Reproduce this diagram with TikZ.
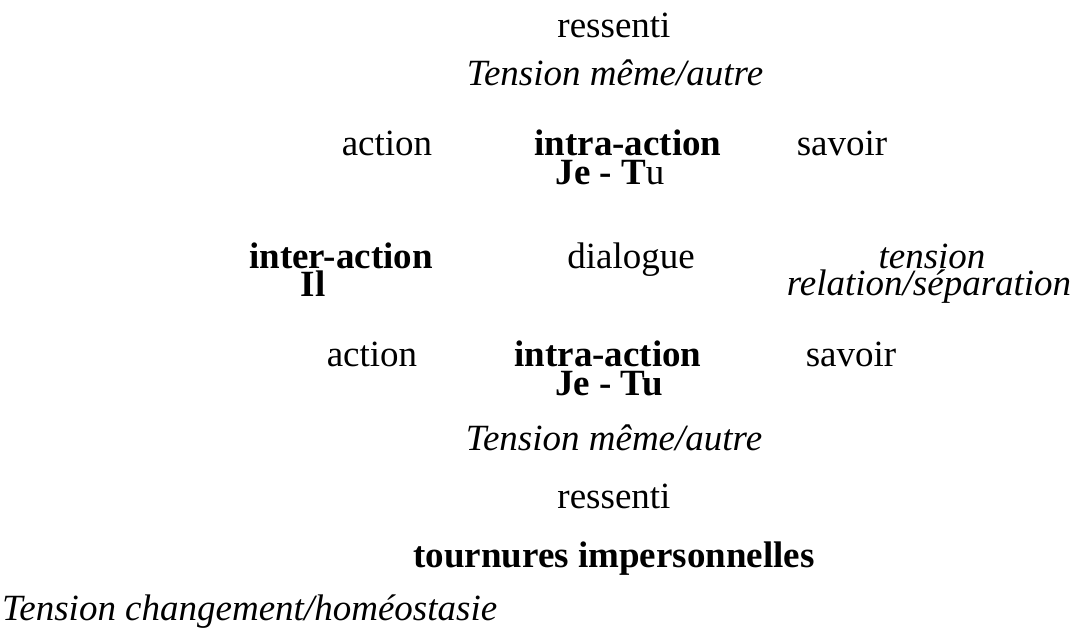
\documentclass[tikz,border=0pt]{standalone}
\usepackage{fontspec}
\setmainfont{Liberation Serif}
\begin{document}
\begin{tikzpicture}[x=1pt,y=1pt]

\tikzset{word/.style = {anchor=base, inner sep=0pt, font=\fontsize{37}{29}\selectfont}}
\tikzset{key/.style = {anchor=base, inner sep=0pt, font=\fontsize{37}{29}\selectfont\bfseries}}
\tikzset{tens/.style = {anchor=base, inner sep=0pt, font=\fontsize{37}{29}\selectfont\itshape}}

\useasboundingbox (0,0) rectangle (1073,-630);

% upper pole
\node[word] (ressA) at (614,-37) {ressenti};
\node[tens] (tensA) at (615,-85) {Tension même/autre};
\node[word] (actA) at (387,-155) {action};
\node[key] (intraA) at (628,-155) {intra-action};
\node[key] (jetuA) at (610,-184) {Je - T\textmd{u}};
\node[word] (savA) at (842,-155) {savoir};

% middle
\node[key] (inter) at (341,-268) {inter-action};
\node[key] (il) at (313,-296) {Il};
\node[word] (dial) at (631,-268) {dialogue};
\node[tens] (tensR) at (932,-268) {tension};
\node[tens] (relsep) at (929,-295) {relation/séparation};

% lower pole
\node[word] (actB) at (372,-366) {action};
\node[key] (intraB) at (608,-366) {intra-action};
\node[key] (jetuB) at (609,-395) {Je - Tu};
\node[word] (savB) at (851,-366) {savoir};
\node[tens] (tensB) at (614,-450) {Tension même/autre};
\node[word] (ressB) at (614,-508) {ressenti};

% bottom
\node[key] (tourn) at (614,-567) {tournures impersonnelles};
\node[tens, anchor=base west] (tensC) at (2,-620) {Tension changement/homéostasie};

\end{tikzpicture}
\end{document}
